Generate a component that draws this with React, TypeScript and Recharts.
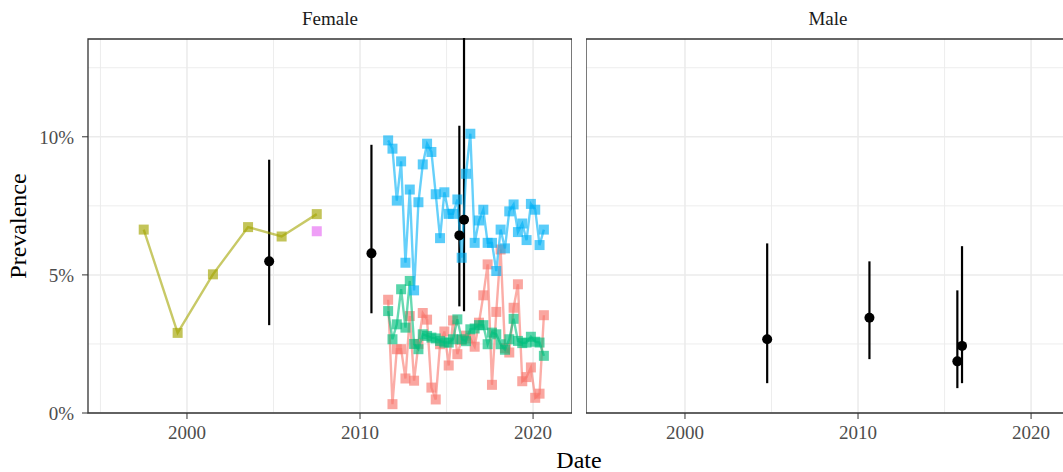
import React from 'react';
import {
  ComposedChart,
  Scatter,
  XAxis,
  YAxis,
  CartesianGrid,
  ReferenceArea,
  ErrorBar
} from 'recharts';

// quarterly survey dates (female only), mid-quarter
const quarterDates = [
  2011.625, 2011.875, 2012.125, 2012.375, 2012.625, 2012.875, 2013.125, 2013.375,
  2013.625, 2013.875, 2014.125, 2014.375, 2014.625, 2014.875, 2015.125, 2015.375,
  2015.625, 2015.875, 2016.125, 2016.375, 2016.625, 2016.875, 2017.125, 2017.375,
  2017.625, 2017.875, 2018.125, 2018.375, 2018.625, 2018.875, 2019.125, 2019.375,
  2019.625, 2019.875, 2020.125, 2020.375, 2020.625
];
const blueValues = [
  9.87, 9.57, 7.69, 9.11, 5.44, 8.09, 4.44, 7.63, 9.0, 9.75, 9.45, 7.92, 6.33,
  7.99, 7.21, 7.21, 7.73, 5.62, 8.66, 10.11, 6.16, 6.97, 7.36, 6.16, 6.16,
  5.14, 6.64, 5.96, 7.3, 7.55, 6.55, 6.86, 6.26, 7.57, 7.36, 6.08, 6.64
];
const redValues = [
  4.1, 0.32, 2.31, 2.31, 1.25, 3.51, 1.17, 2.5, 3.62, 3.38, 0.92, 0.49, 2.49,
  2.95, 1.72, 3.35, 2.13, 2.65, 2.8, 2.7, 2.4, 3.27, 4.26, 5.38, 1.02,
  3.66, 5.92, 2.35, 2.19, 3.81, 4.66, 1.15, 1.3, 1.65, 0.55, 0.7, 3.54
];
const greenValues = [
  3.69, 2.67, 3.21, 4.48, 3.09, 4.78, 2.5, 2.31, 2.85, 2.79, 2.73, 2.7, 2.61,
  2.55, 2.55, 2.67, 3.39, 2.67, 2.6, 3.03, 3.06, 3.18, 3.18, 2.49, 2.91,
  2.85, 2.49, 2.29, 2.67, 3.41, 2.61, 2.53, 2.55, 2.76, 2.58, 2.55, 2.07
];

// older biennial series
const oliveDates = [1997.5, 1999.46, 2001.5, 2003.53, 2005.47, 2007.5];
const oliveValues = [6.64, 2.9, 5.02, 6.73, 6.39, 7.2];
const pinkDates = [2007.5];
const pinkValues = [6.58];

// point estimates with intervals
const estDates = [2004.75, 2010.66, 2015.74, 2016.01];
const femaleEst = [5.49, 5.78, 6.43, 7.0];
const femaleLow = [3.18, 3.61, 3.86, 3.68];
const femaleHigh = [9.17, 9.71, 10.4, 14.8];
const maleEst = [2.67, 3.45, 1.87, 2.43];
const maleLow = [1.08, 1.95, 0.9, 1.08];
const maleHigh = [6.14, 5.49, 4.44, 6.04];

const xTicks = [2000, 2010, 2020];
const xMinor = [1995, 2005, 2015];
const yTicks = [0, 5, 10];
const yMinor = [2.5, 7.5, 12.5];
const xDomain: [number, number] = [1994.28, 2022.25];
const yDomain: [number, number] = [0, 13.54];

const RED = '#F8766D';
const OLIVE = '#A3A500';
const GREEN = '#00BF7D';
const BLUE = '#00B0F6';
const PINK = '#E76BF3';

const toPoints = (xs: number[], ys: number[]) => xs.map((x, i) => ({ x, y: ys[i] }));
const toRanges = (xs: number[], est: number[], lo: number[], hi: number[]) =>
  xs.map((x, i) => ({ x, y: est[i], err: [est[i] - lo[i], hi[i] - est[i]] }));

const square = (color: string) => (props: any) => {
  const { cx, cy } = props;
  if (cx == null || cy == null) return <g />;
  return <rect x={cx - 5} y={cy - 5} width={10} height={10} fill={color} fillOpacity={0.65} />;
};

const blackDot = (props: any) => {
  if (props.cx == null || props.cy == null) return <g />;
  return <circle cx={props.cx} cy={props.cy} r={5} fill="#000" />;
};

interface Series {
  data: { x: number; y: number }[];
  color: string;
  line: boolean;
}

const femaleSeries: Series[] = [
  { data: toPoints(oliveDates, oliveValues), color: OLIVE, line: true },
  { data: toPoints(pinkDates, pinkValues), color: PINK, line: false },
  { data: toPoints(quarterDates, redValues), color: RED, line: true },
  { data: toPoints(quarterDates, greenValues), color: GREEN, line: true },
  { data: toPoints(quarterDates, blueValues), color: BLUE, line: true }
];

const tickStyle = { fontSize: 19, fill: '#4D4D4D' };

const Panel = ({
  width,
  showY,
  series,
  ranges
}: {
  width: number;
  showY: boolean;
  series: Series[];
  ranges: { x: number; y: number; err: number[] }[];
}) => (
  <ComposedChart width={width} height={444} margin={{ top: 39, right: 0, bottom: 0, left: 0 }}>
    <CartesianGrid
      verticalValues={xMinor}
      horizontalValues={yMinor}
      stroke="#EBEBEB"
      strokeWidth={0.9}
    />
    <CartesianGrid
      verticalValues={xTicks}
      horizontalValues={yTicks}
      stroke="#EBEBEB"
      strokeWidth={1.5}
    />
    <XAxis
      type="number"
      dataKey="x"
      domain={xDomain}
      ticks={xTicks}
      allowDataOverflow
      axisLine={false}
      tickLine={{ stroke: '#333333' }}
      tickSize={6}
      tickMargin={7}
      height={31}
      tick={tickStyle}
    />
    <YAxis
      type="number"
      dataKey="y"
      domain={yDomain}
      ticks={yTicks}
      allowDataOverflow
      hide={!showY}
      width={88}
      axisLine={false}
      tickLine={{ stroke: '#333333' }}
      tickSize={6}
      tickMargin={8}
      tickFormatter={(v: number) => `${v}%`}
      tick={tickStyle}
    />
    {series.map((s, i) => (
      <Scatter
        key={i}
        data={s.data}
        fill={s.color}
        line={s.line ? { stroke: s.color, strokeOpacity: 0.6, strokeWidth: 2.4 } : false}
        shape={square(s.color)}
        isAnimationActive={false}
      />
    ))}
    <Scatter data={ranges} fill="#000" shape={blackDot} isAnimationActive={false}>
      <ErrorBar dataKey="err" direction="y" width={0} stroke="#000" strokeWidth={2.2} />
    </Scatter>
    <ReferenceArea
      x1={xDomain[0]}
      x2={xDomain[1]}
      y1={yDomain[0]}
      y2={yDomain[1]}
      fill="none"
      stroke="#333333"
      strokeWidth={1.3}
    />
  </ComposedChart>
);

const App = () => {
  const femaleRanges = toRanges(estDates, femaleEst, femaleLow, femaleHigh);
  const maleRanges = toRanges(estDates, maleEst, maleLow, maleHigh);
  // the panel top hides whatever the intervals draw above it
  const panelClip = 'inset(38px 0 0 0)';
  return (
    <div
      style={{
        position: 'absolute',
        left: 0,
        top: 0,
        width: 1063,
        height: 472,
        overflow: 'hidden',
        background: '#fff',
        fontFamily: '"Liberation Serif", serif'
      }}
    >
      <div style={{ position: 'absolute', left: 0, top: 0, clipPath: panelClip }}>
        <Panel width={572} showY series={femaleSeries} ranges={femaleRanges} />
      </div>
      <div style={{ position: 'absolute', left: 586, top: 0, clipPath: panelClip }}>
        <Panel width={484} showY={false} series={[]} ranges={maleRanges} />
      </div>
      <div style={{ position: 'absolute', left: 330, top: 18, transform: 'translate(-50%, -50%)', fontSize: 19, color: '#1A1A1A', lineHeight: 1 }}>
        Female
      </div>
      <div style={{ position: 'absolute', left: 828, top: 18, transform: 'translate(-50%, -50%)', fontSize: 19, color: '#1A1A1A', lineHeight: 1 }}>
        Male
      </div>
      <div style={{ position: 'absolute', left: 17.5, top: 226, transform: 'translate(-50%, -50%) rotate(-90deg)', fontSize: 24, color: '#000', lineHeight: 1, whiteSpace: 'nowrap' }}>
        Prevalence
      </div>
      <div style={{ position: 'absolute', left: 579, top: 460, transform: 'translate(-50%, -50%)', fontSize: 24, color: '#000', lineHeight: 1 }}>
        Date
      </div>
    </div>
  );
};

export default App;
